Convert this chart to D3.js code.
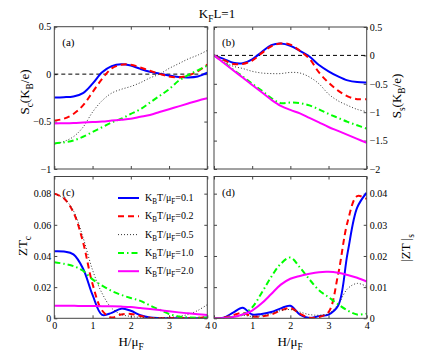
<!DOCTYPE html>
<html>
<head>
<meta charset="utf-8">
<script src="https://cdn.jsdelivr.net/npm/d3@7"></script>
<style>
  body { margin: 0; background: #fff; }
  text { font-family: "Liberation Serif", "Times New Roman", serif; fill: #000; }
</style>
</head>
<body>
<div id="chart"></div>
<script>
/* ---------- data ---------- */

const H = [0, 0.25, 0.5, 0.75, 1, 1.25, 1.5, 1.75, 2, 2.25, 2.5, 2.75, 3, 3.25, 3.5, 3.75, 4];
const temps = ["0.1", "0.2", "0.5", "1.0", "2.0"];

// (a) S_c
const sc01 = [-0.245, -0.243, -0.235, -0.2, -0.1, 0.02, 0.085, 0.105, 0.09, 0.055, 0.025, 0.005, -0.015, -0.03, -0.035, -0.025, 0.015];
const sc02 = [-0.49, -0.47, -0.42, -0.33, -0.19, -0.05, 0.06, 0.1, 0.1, 0.07, 0.035, 0.003, -0.025, -0.035, -0.015, 0.03, 0.1];
const sc05 = [-0.74, -0.71, -0.66, -0.56, -0.4, -0.28, -0.2, -0.16, -0.13, -0.09, -0.04, 0.0, 0.06, 0.11, 0.16, 0.2, 0.25];
const sc10 = [-0.73, -0.72, -0.7, -0.66, -0.61, -0.56, -0.51, -0.47, -0.42, -0.37, -0.3, -0.23, -0.16, -0.07, -0.01, 0.04, 0.09];
const sc20 = [-0.52, -0.518, -0.515, -0.51, -0.505, -0.5, -0.49, -0.48, -0.47, -0.45, -0.43, -0.4, -0.37, -0.34, -0.31, -0.28, -0.255];

// (b) S_s
const ss01 = [0, -0.06, -0.13, -0.14, -0.07, 0.06, 0.18, 0.21, 0.17, 0.08, -0.02, -0.17, -0.28, -0.37, -0.44, -0.47, -0.475];
const ss02 = [0, -0.08, -0.15, -0.15, -0.09, 0.04, 0.16, 0.21, 0.19, 0.08, -0.06, -0.3, -0.48, -0.62, -0.72, -0.77, -0.77];
const ss05 = [0, -0.11, -0.19, -0.23, -0.28, -0.31, -0.32, -0.32, -0.3, -0.31, -0.38, -0.5, -0.68, -0.8, -0.88, -0.95, -0.99];
const ss10 = [0, -0.12, -0.25, -0.37, -0.5, -0.62, -0.75, -0.84, -0.83, -0.84, -0.88, -0.95, -1.03, -1.1, -1.17, -1.23, -1.29];
const ss20 = [0, -0.13, -0.26, -0.39, -0.52, -0.65, -0.78, -0.89, -0.96, -1.02, -1.1, -1.18, -1.26, -1.33, -1.4, -1.47, -1.54];

// (c) ZT_c
const zc01 = [0.043, 0.0428, 0.041, 0.032, 0.015, 0.0022, 0.0035, 0.0062, 0.0048, 0.002, 0.0005, 0.0001, 0, 0, 0, 0, 0.0005];
const zc02 = [0.08, 0.077, 0.068, 0.049, 0.022, 0.005, 0.0005, 0.0025, 0.0028, 0.0015, 0.0004, 0.0001, 0.0002, 0.0002, 0.0002, 0.0003, 0.001];
const zc05 = [0.08, 0.077, 0.069, 0.052, 0.031, 0.016, 0.0065, 0.0025, 0.0012, 0.0006, 0.0004, 0.0004, 0.0006, 0.0012, 0.0025, 0.005, 0.0088];
const zc10 = [0.036, 0.035, 0.0335, 0.0305, 0.025, 0.021, 0.0175, 0.015, 0.013, 0.0112, 0.0082, 0.0055, 0.0028, 0.0012, 0.0006, 0.0004, 0.0004];
const zc20 = [0.008, 0.008, 0.008, 0.0079, 0.0079, 0.0078, 0.0077, 0.0075, 0.0072, 0.0066, 0.006, 0.0053, 0.0045, 0.0038, 0.0032, 0.0026, 0.0021];

// (d) |ZT|_s
const zs01 = [0, 0.0002, 0.0018, 0.0034, 0.0012, 0.0014, 0.002, 0.0032, 0.004, 0.0012, 0.0001, 0.0007, 0.0012, 0.004, 0.021, 0.0355, 0.0403];
const zs02 = [0, 0.0002, 0.001, 0.0017, 0.0006, 0.0006, 0.0012, 0.0025, 0.0033, 0.0015, 0.0002, 0.0004, 0.002, 0.014, 0.031, 0.0392, 0.0383];
const zs05 = [0, 0.0001, 0.0004, 0.0009, 0.0006, 0.0008, 0.0015, 0.0025, 0.0028, 0.002, 0.0012, 0.001, 0.0015, 0.0045, 0.0095, 0.0112, 0.0102];
const zs10 = [0, 0.0001, 0.0005, 0.0012, 0.0035, 0.0082, 0.0133, 0.0175, 0.0195, 0.0163, 0.0125, 0.009, 0.0068, 0.0045, 0.0025, 0.0012, 0.0015];
const zs20 = [0, 0.0001, 0.0004, 0.0012, 0.0025, 0.0048, 0.0078, 0.0108, 0.0127, 0.0136, 0.0143, 0.0148, 0.0149, 0.0146, 0.0139, 0.013, 0.0118];

const xTicks = [0, 1, 2, 3, 4];

/* ---------- styles per temperature ---------- */

const styles = [
  { color: "#0000ff", width: 2, dash: null },
  { color: "#ff0000", width: 2, dash: "6,4" },
  { color: "#333333", width: 1, dash: "1,2" },
  { color: "#00ff00", width: 2, dash: "6,3,1.5,3" },
  { color: "#ff00ff", width: 2, dash: null }
];

/* ---------- svg ---------- */

const W = 436, HGT = 355;
const svg = d3.select("#chart").append("svg")
  .attr("width", W)
  .attr("height", HGT);

// helper: text with subscripts
function rich(text, parts, fs) {
  let shift = 0;
  parts.forEach(p => {
    const isSub = typeof p !== "string";
    const s = isSub ? fs * 0.3 : 0;
    text.append("tspan")
      .attr("dy", s - shift)
      .attr("font-size", isSub ? fs * 0.72 : fs)
      .text(isSub ? p.sub : p);
    shift = s;
  });
}

const panels = [
  { tag: "(a)", x0: 54.3, x1: 207.3, y0: 26.7, y1: 169, dom: [-1, 0.5], ticks: [-1, -0.5, 0, 0.5],
    side: "left", xLabels: false, zero: true, series: [sc01, sc02, sc05, sc10, sc20] },
  { tag: "(b)", x0: 214, x1: 366.7, y0: 27, y1: 169, dom: [-2, 0.5], ticks: [-2, -1.5, -1, -0.5, 0, 0.5],
    side: "right", xLabels: false, zero: true, series: [ss01, ss02, ss05, ss10, ss20] },
  { tag: "(c)", x0: 54.3, x1: 207.3, y0: 176.5, y1: 318.3, dom: [0, 0.091], ticks: [0, 0.02, 0.04, 0.06, 0.08],
    side: "left", xLabels: true, zero: false, series: [zc01, zc02, zc05, zc10, zc20] },
  { tag: "(d)", x0: 214, x1: 366.7, y0: 176.5, y1: 318.3, dom: [0, 0.0455], ticks: [0, 0.01, 0.02, 0.03, 0.04],
    side: "right", xLabels: true, zero: false, series: [zs01, zs02, zs05, zs10, zs20] }
];

const fmt = d3.format("~g");

panels.forEach((p, i) => {
  const x = d3.scaleLinear().domain([0, 4]).range([p.x0, p.x1]);
  const y = d3.scaleLinear().domain(p.dom).range([p.y1, p.y0]);
  const g = svg.append("g");

  const clipId = "clip" + i;
  svg.append("clipPath").attr("id", clipId)
    .append("rect")
    .attr("x", p.x0).attr("y", p.y0)
    .attr("width", p.x1 - p.x0).attr("height", p.y1 - p.y0);

  // axes (ticks inward)
  const bottom = d3.axisBottom(x).tickValues(xTicks).tickSizeInner(-3).tickSizeOuter(0).tickPadding(4)
    .tickFormat(p.xLabels ? fmt : "");
  const top = d3.axisTop(x).tickValues(xTicks).tickSizeInner(-3).tickSizeOuter(0).tickFormat("");
  const yMain = (p.side === "left" ? d3.axisLeft(y) : d3.axisRight(y))
    .tickValues(p.ticks).tickSizeInner(-3).tickSizeOuter(0).tickPadding(3).tickFormat(fmt);
  const yOther = (p.side === "left" ? d3.axisRight(y) : d3.axisLeft(y))
    .tickValues(p.ticks).tickSizeInner(-3).tickSizeOuter(0).tickFormat("");

  g.append("g").attr("transform", `translate(0,${p.y1})`).call(bottom);
  g.append("g").attr("transform", `translate(0,${p.y0})`).call(top);
  g.append("g").attr("transform", `translate(${p.side === "left" ? p.x0 : p.x1},0)`).call(yMain);
  g.append("g").attr("transform", `translate(${p.side === "left" ? p.x1 : p.x0},0)`).call(yOther);

  g.selectAll(".domain").remove();
  g.selectAll(".tick line").attr("stroke", "#444");
  g.selectAll(".tick text")
    .attr("font-size", 10)
    .attr("font-family", "Liberation Serif, Times New Roman, serif")
    .attr("fill", "#000");

  // zero reference line
  if (p.zero) {
    g.append("line")
      .attr("x1", p.x0).attr("x2", p.x1)
      .attr("y1", y(0)).attr("y2", y(0))
      .attr("stroke", "#000").attr("stroke-width", 1)
      .attr("stroke-dasharray", "4,3");
  }

  // curves
  const line = d3.line()
    .x((d, j) => x(H[j]))
    .y(d => y(d))
    .curve(d3.curveCatmullRom.alpha(0.5));

  const curves = g.append("g").attr("clip-path", `url(#${clipId})`);
  p.series.forEach((s, k) => {
    const st = styles[k];
    curves.append("path")
      .datum(s)
      .attr("d", line)
      .attr("fill", "none")
      .attr("stroke", st.color)
      .attr("stroke-width", st.width)
      .attr("stroke-dasharray", st.dash);
  });

  // frame
  g.append("rect")
    .attr("x", p.x0).attr("y", p.y0)
    .attr("width", p.x1 - p.x0).attr("height", p.y1 - p.y0)
    .attr("fill", "none")
    .attr("stroke", "#444")
    .attr("stroke-width", 1);

  // panel tag
  g.append("text")
    .attr("x", p.x0 + 8).attr("y", p.y0 + 19)
    .attr("font-size", 11)
    .text(p.tag);
});

/* ---------- labels ---------- */

rich(svg.append("text").attr("x", 217).attr("y", 18).attr("text-anchor", "middle"),
  ["K", { sub: "F" }, "L=1"], 13);

rich(svg.append("text").attr("transform", "translate(29,92) rotate(-90)").attr("text-anchor", "middle"),
  ["S", { sub: "c" }, "(K", { sub: "B" }, "/e)"], 13);
rich(svg.append("text").attr("transform", "translate(401,96) rotate(-90)").attr("text-anchor", "middle"),
  ["S", { sub: "s" }, "(K", { sub: "B" }, "/e)"], 13);
rich(svg.append("text").attr("transform", "translate(27,246) rotate(-90)").attr("text-anchor", "middle"),
  ["ZT", { sub: "c" }], 13);
rich(svg.append("text").attr("transform", "translate(410,248) rotate(-90)").attr("text-anchor", "middle"),
  ["|ZT |", { sub: "s" }], 13);

rich(svg.append("text").attr("x", 131).attr("y", 346).attr("text-anchor", "middle"),
  ["H/μ", { sub: "F" }], 13);
rich(svg.append("text").attr("x", 290).attr("y", 346).attr("text-anchor", "middle"),
  ["H/μ", { sub: "F" }], 13);

/* ---------- legend ---------- */

const legend = svg.append("g");
temps.forEach((t, k) => {
  const ly = 198 + k * 18.3;
  const st = styles[k];
  legend.append("line")
    .attr("x1", 118).attr("x2", 139)
    .attr("y1", ly).attr("y2", ly)
    .attr("stroke", st.color)
    .attr("stroke-width", st.width)
    .attr("stroke-dasharray", st.dash);
  rich(legend.append("text").attr("x", 145).attr("y", ly + 3),
    ["K", { sub: "B" }, "T/μ", { sub: "F" }, "=" + t], 10);
});
</script>
</body>
</html>
